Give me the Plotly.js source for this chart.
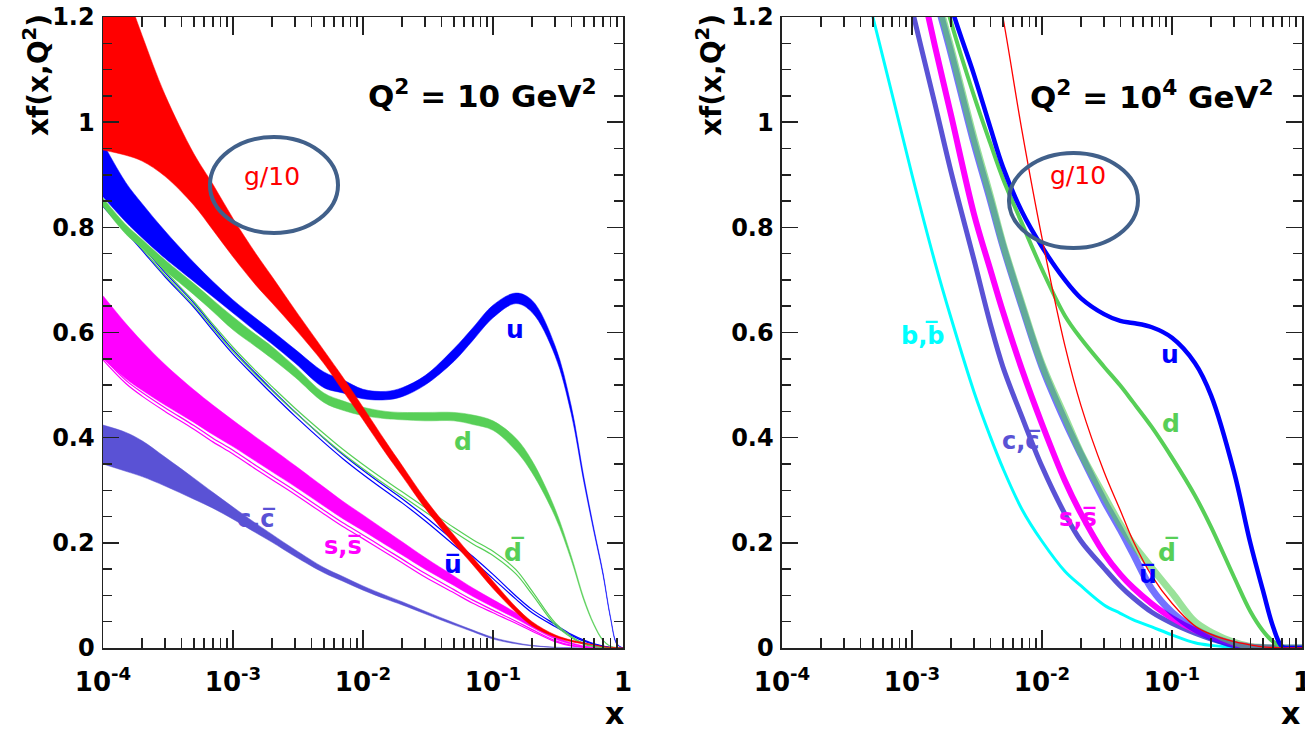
<!DOCTYPE html>
<html>
<head>
<meta charset="utf-8">
<script src="https://cdn.plot.ly/plotly-3.0.1.min.js"></script>
<style>html,body{margin:0;padding:0;background:#fff;}#chart{width:1305px;height:734px;}</style>
</head>
<body>
<div id="chart"></div>
<script>
// ---------- DATA ----------
// Left panel: Q^2 = 10 GeV^2
const xL = [1e-4, 1.5e-4, 2e-4, 3e-4, 5e-4, 7e-4, 1e-3, 1.5e-3, 2e-3, 3e-3, 5e-3, 7e-3, 0.01, 0.015, 0.02, 0.03, 0.05, 0.07, 0.1, 0.15, 0.2, 0.3, 0.4, 0.5, 0.6, 0.7, 0.8, 0.9, 1];
const gHiL = [1.36, 1.25, 1.165, 1.052, 0.94, 0.882, 0.817, 0.75, 0.706, 0.643, 0.566, 0.515, 0.458, 0.392, 0.347, 0.284, 0.215, 0.172, 0.127, 0.078, 0.050, 0.025, 0.015, 0.010, 0.006, 0.003, 0.0015, 0.0005, 0];
const gLoL = [0.947, 0.937, 0.926, 0.897, 0.842, 0.795, 0.744, 0.69, 0.656, 0.607, 0.541, 0.489, 0.434, 0.370, 0.327, 0.266, 0.199, 0.158, 0.113, 0.068, 0.042, 0.021, 0.012, 0.008, 0.005, 0.002, 0.001, 0.0003, 0];
const uHiL = [0.960, 0.885, 0.845, 0.793, 0.733, 0.697, 0.662, 0.627, 0.603, 0.568, 0.525, 0.510, 0.492, 0.488, 0.495, 0.518, 0.569, 0.609, 0.652, 0.675, 0.661, 0.575, 0.46, 0.325, 0.225, 0.145, 0.06, 0.008, 0];
const uLoL = [0.858, 0.810, 0.780, 0.741, 0.697, 0.668, 0.637, 0.602, 0.578, 0.542, 0.495, 0.485, 0.474, 0.472, 0.478, 0.500, 0.545, 0.585, 0.628, 0.655, 0.638, 0.556, 0.445, 0.315, 0.218, 0.14, 0.057, 0.006, 0];
const dHiL = [0.856, 0.805, 0.777, 0.738, 0.693, 0.662, 0.630, 0.596, 0.573, 0.535, 0.485, 0.470, 0.458, 0.450, 0.448, 0.448, 0.448, 0.443, 0.432, 0.399, 0.356, 0.265, 0.175, 0.095, 0.045, 0.016, 0.004, 0.001, 0];
const dLoL = [0.840, 0.787, 0.760, 0.718, 0.672, 0.640, 0.605, 0.573, 0.550, 0.515, 0.467, 0.452, 0.442, 0.436, 0.434, 0.432, 0.432, 0.425, 0.414, 0.375, 0.333, 0.25, 0.167, 0.09, 0.042, 0.014, 0.003, 0.0005, 0];
const dbHiL = [0.848, 0.801, 0.767, 0.717, 0.659, 0.616, 0.572, 0.527, 0.497, 0.456, 0.408, 0.378, 0.349, 0.318, 0.297, 0.267, 0.229, 0.206, 0.184, 0.149, 0.108, 0.048, 0.022, 0.009, 0.003, 0.001, 0, 0, 0];
const dbLoL = [0.842, 0.793, 0.759, 0.709, 0.651, 0.608, 0.564, 0.519, 0.489, 0.448, 0.400, 0.370, 0.341, 0.310, 0.289, 0.259, 0.221, 0.198, 0.176, 0.141, 0.102, 0.044, 0.020, 0.007, 0.003, 0.001, 0, 0, 0];
const ubHiL = [0.846, 0.799, 0.764, 0.714, 0.656, 0.612, 0.567, 0.522, 0.491, 0.449, 0.399, 0.368, 0.338, 0.306, 0.284, 0.250, 0.204, 0.174, 0.140, 0.099, 0.073, 0.045, 0.026, 0.015, 0.008, 0.004, 0.001, 0, 0];
const ubLoL = [0.840, 0.791, 0.756, 0.706, 0.648, 0.604, 0.559, 0.514, 0.483, 0.441, 0.391, 0.360, 0.330, 0.298, 0.276, 0.242, 0.196, 0.166, 0.132, 0.093, 0.067, 0.041, 0.024, 0.013, 0.007, 0.003, 0.001, 0, 0];
const sHiL = [0.67, 0.617, 0.583, 0.539, 0.491, 0.462, 0.433, 0.401, 0.379, 0.347, 0.306, 0.279, 0.253, 0.223, 0.202, 0.172, 0.137, 0.114, 0.092, 0.067, 0.048, 0.022, 0.01, 0.004, 0.0015, 0.0005, 0, 0, 0];
const sLoL = [0.55, 0.512, 0.490, 0.462, 0.429, 0.406, 0.383, 0.355, 0.335, 0.307, 0.270, 0.246, 0.223, 0.196, 0.177, 0.150, 0.119, 0.098, 0.078, 0.056, 0.039, 0.017, 0.007, 0.0025, 0.0007, 0.0002, 0, 0, 0];
const sbHiL = [0.553, 0.509, 0.486, 0.457, 0.423, 0.399, 0.376, 0.347, 0.327, 0.299, 0.262, 0.238, 0.215, 0.188, 0.169, 0.142, 0.111, 0.091, 0.072, 0.051, 0.035, 0.014, 0.005, 0.002, 0.0005, 0, 0, 0, 0];
const sbLoL = [0.548, 0.503, 0.479, 0.450, 0.416, 0.392, 0.369, 0.340, 0.320, 0.292, 0.255, 0.231, 0.208, 0.181, 0.162, 0.135, 0.105, 0.085, 0.067, 0.047, 0.032, 0.012, 0.004, 0.0015, 0.0003, 0, 0, 0, 0];
const cHiL = [0.424, 0.41, 0.394, 0.363, 0.323, 0.296, 0.268, 0.237, 0.216, 0.187, 0.153, 0.136, 0.118, 0.100, 0.088, 0.070, 0.048, 0.034, 0.020, 0.010, 0.005, 0.0015, 0.0005, 0, 0, 0, 0, 0, 0];
const cLoL = [0.350, 0.336, 0.326, 0.308, 0.283, 0.266, 0.245, 0.219, 0.201, 0.174, 0.143, 0.127, 0.110, 0.093, 0.082, 0.065, 0.044, 0.031, 0.017, 0.008, 0.004, 0.001, 0, 0, 0, 0, 0, 0, 0];

// Right panel: Q^2 = 10^4 GeV^2
const xR = [3e-4, 5e-4, 7e-4, 1e-3, 1.5e-3, 2e-3, 3e-3, 4e-3, 5e-3, 7e-3, 0.01, 0.015, 0.02, 0.03, 0.04, 0.05, 0.07, 0.1, 0.15, 0.2, 0.3, 0.4, 0.5, 0.6, 0.7, 0.8, 0.9, 1];
const bR  = [1.42, 1.2, 1.055, 0.9, 0.734, 0.627, 0.487, 0.402, 0.342, 0.264, 0.203, 0.146, 0.118, 0.082, 0.066, 0.054, 0.04, 0.025, 0.01, 0.005, 0.0015, 0.0005, 0, 0, 0, 0, 0, 0];
const cR  = [1.75, 1.55, 1.385, 1.215, 1.035, 0.905, 0.738, 0.617, 0.535, 0.44, 0.345, 0.255, 0.203, 0.152, 0.118, 0.096, 0.068, 0.047, 0.028, 0.017, 0.005, 0.002, 0.001, 0, 0, 0, 0, 0];
const sR  = [1.9, 1.66, 1.5, 1.34, 1.145, 1.013, 0.825, 0.72, 0.64, 0.53, 0.426, 0.318, 0.255, 0.18, 0.14, 0.115, 0.084, 0.057, 0.034, 0.022, 0.008, 0.003, 0.001, 0, 0, 0, 0, 0];
const ubR = [1.95, 1.72, 1.57, 1.42, 1.245, 1.13, 0.96, 0.852, 0.765, 0.65, 0.535, 0.432, 0.367, 0.28, 0.225, 0.18, 0.112, 0.068, 0.036, 0.021, 0.006, 0.001, 0, 0, 0, 0, 0, 0];
const dbR = [1.96, 1.73, 1.58, 1.43, 1.255, 1.14, 0.97, 0.86, 0.77, 0.655, 0.54, 0.44, 0.37, 0.29, 0.235, 0.198, 0.152, 0.105, 0.05, 0.03, 0.011, 0.003, 0.001, 0, 0, 0, 0, 0];
const gR  = [3.0, 2.6, 2.35, 2.1, 1.85, 1.7, 1.47, 1.32, 1.2, 0.985, 0.78, 0.575, 0.46, 0.335, 0.262, 0.205, 0.137, 0.085, 0.042, 0.026, 0.012, 0.006, 0.002, 0.001, 0, 0, 0, 0];
const dR  = [2.02, 1.8, 1.64, 1.47, 1.31, 1.19, 1.05, 0.96, 0.893, 0.808, 0.72, 0.632, 0.588, 0.535, 0.499, 0.468, 0.42, 0.362, 0.29, 0.23, 0.135, 0.07, 0.033, 0.012, 0.003, 0, 0, 0];
const uR  = [2.1, 1.86, 1.69, 1.52, 1.34, 1.22, 1.09, 0.99, 0.915, 0.83, 0.763, 0.70, 0.665, 0.635, 0.622, 0.618, 0.61, 0.59, 0.542, 0.48, 0.335, 0.20, 0.11, 0.04, 0.003, 0, 0, 0];

// Axis ticks
const xTickVals = [1e-4, 1e-3, 1e-2, 1e-1, 1];
const xTickText = ['10<sup>-4</sup>', '10<sup>-3</sup>', '10<sup>-2</sup>', '10<sup>-1</sup>', '1'];
const xMinorVals = [2e-4,3e-4,4e-4,5e-4,6e-4,7e-4,8e-4,9e-4, 2e-3,3e-3,4e-3,5e-3,6e-3,7e-3,8e-3,9e-3, 0.02,0.03,0.04,0.05,0.06,0.07,0.08,0.09, 0.2,0.3,0.4,0.5,0.6,0.7,0.8,0.9];

// ---------- STYLE ----------
const RED = '#ff0000', BLUE = '#0000ff', GREEN = '#57cf57', MAG = '#ff00ff', SLATE = '#5a52d5', CYAN = '#00ffff';
const ELL = '#41608a';

function band(x, lo, hi, color, xa, ya) {
  const common = {x: x, mode: 'lines', xaxis: xa, yaxis: ya, hoverinfo: 'skip', showlegend: false};
  return [
    Object.assign({}, common, {y: lo, line: {color: color, width: 0.5, shape: 'spline', smoothing: 1}}),
    Object.assign({}, common, {y: hi, fill: 'tonexty', fillcolor: color, line: {color: color, width: 0.5, shape: 'spline', smoothing: 1}})
  ];
}
function line(x, y, color, width, xa, ya) {
  return {x: x, y: y, mode: 'lines', xaxis: xa, yaxis: ya, hoverinfo: 'skip', showlegend: false,
          line: {color: color, width: width, shape: 'spline', smoothing: 1}};
}

const traces = [];
// left panel
traces.push(...band(xL, cLoL, cHiL, SLATE, 'x', 'y'));
traces.push(...band(xL, sLoL, sHiL, MAG, 'x', 'y'));
traces.push(line(xL, sbHiL, MAG, 1.2, 'x', 'y'), line(xL, sbLoL, MAG, 1.2, 'x', 'y'));
traces.push(line(xL, ubHiL, BLUE, 1.2, 'x', 'y'), line(xL, ubLoL, BLUE, 1.2, 'x', 'y'));
traces.push(line(xL, dbHiL, GREEN, 1.2, 'x', 'y'), line(xL, dbLoL, GREEN, 1.2, 'x', 'y'));
traces.push(...band(xL, dLoL, dHiL, GREEN, 'x', 'y'));
traces.push(...band(xL, uLoL, uHiL, BLUE, 'x', 'y'));
traces.push(...band(xL, gLoL, gHiL, RED, 'x', 'y'));
// right panel
traces.push(line(xR, bR, CYAN, 3, 'x2', 'y2'));
traces.push(line(xR, cR, SLATE, 5, 'x2', 'y2'));
traces.push(line(xR, sR, MAG, 6, 'x2', 'y2'));
traces.push(line(xR, ubR, 'rgba(0,0,255,0.55)', 7, 'x2', 'y2'));
traces.push(line(xR, dbR, 'rgba(87,207,87,0.6)', 7, 'x2', 'y2'));
traces.push(line(xR, dR, GREEN, 4, 'x2', 'y2'));
traces.push(line(xR, uR, BLUE, 4.5, 'x2', 'y2'));
traces.push(line(xR, gR, RED, 1.3, 'x2', 'y2'));

const FONT = 'DejaVu Sans';
function xAxis(domain, anchor) {
  return {type: 'log', domain: domain, anchor: anchor, range: [-4, 0], tickmode: 'array', tickvals: xTickVals, ticktext: xTickText,
    ticks: 'inside', ticklen: 18, tickwidth: 1.5, tickcolor: '#222', showline: true, linecolor: '#222', linewidth: 1.5,
    mirror: 'ticks', showgrid: false, zeroline: false, fixedrange: true, ticklabelstandoff: 10, ticklabeloverflow: 'allow',
    tickfont: {family: FONT, size: 26, color: '#000', weight: 'bold'},
    minor: {tickmode: 'array', tickvals: xMinorVals, ticks: 'inside', ticklen: 10, tickwidth: 1.5, tickcolor: '#222', showgrid: false}};
}
function yAxis(anchor) {
  return {anchor: anchor, domain: [0, 1], range: [0, 1.2], tick0: 0, dtick: 0.2, ticks: 'inside', ticklen: 16, tickwidth: 1.5, tickcolor: '#222',
    showline: true, linecolor: '#222', linewidth: 1.5, mirror: 'ticks', showgrid: false, zeroline: false, fixedrange: true,
    ticklabelstandoff: 2,
    tickfont: {family: FONT, size: 24, color: '#000', weight: 'bold'},
    minor: {dtick: 0.05, ticks: 'inside', ticklen: 9, tickwidth: 1.5, tickcolor: '#222', showgrid: false}};
}

function ann(text, x, y, color, size, bold, extra) {
  return Object.assign({text: text, x: x, y: y, xref: 'paper', yref: 'paper', xanchor: 'center', yanchor: 'middle',
    showarrow: false, font: {family: FONT, size: size, color: color, weight: bold ? 'bold' : 'normal'}}, extra || {});
}
const OV = '\u0305';
const annotations = [
  ann('xf(x,Q<sup>2</sup>)', -0.0559, 0.908, '#000', 28, true, {textangle: -90}),
  ann('xf(x,Q<sup>2</sup>)', 0.5054, 0.908, '#000', 28, true, {textangle: -90}),
  ann('x', 0.4270, -0.1347, '#000', 30, true, {yanchor: 'bottom'}),
  ann('x', 0.9900, -0.1347, '#000', 30, true, {yanchor: 'bottom'}),
  ann('Q<sup>2</sup> = 10 GeV<sup>2</sup>', 0.3169, 0.878, '#000', 31, true),
  ann('Q<sup>2</sup> = 10<sup>4</sup> GeV<sup>2</sup>', 0.8749, 0.877, '#000', 31, true),
  ann('g/10', 0.1410, 0.748, RED, 25, false),
  ann('g/10', 0.8132, 0.7496, RED, 25, false),
  ann('u', 0.3436, 0.505, BLUE, 25, true),
  ann('d', 0.3003, 0.328, GREEN, 25, true),
  ann('d' + OV, 0.3428, 0.1537, GREEN, 25, true),
  ann('u' + OV, 0.2919, 0.1330, BLUE, 25, true),
  ann('s,s' + OV, 0.2002, 0.162, MAG, 24, true),
  ann('c,c' + OV, 0.1276, 0.205, SLATE, 24, true),
  ann('u', 0.8899, 0.4650, BLUE, 25, true),
  ann('d', 0.8907, 0.355, GREEN, 25, true),
  ann('d' + OV, 0.8882, 0.1537, GREEN, 25, true),
  ann('u' + OV, 0.8716, 0.1170, BLUE, 25, true),
  ann('s,s' + OV, 0.8132, 0.2060, MAG, 24, true),
  ann('c,c' + OV, 0.7656, 0.3280, SLATE, 24, true),
  ann('b,b' + OV, 0.6831, 0.4960, CYAN, 24, true)
];

const shapes = [
  {type: 'circle', xref: 'paper', yref: 'paper', x0: 0.0892, x1: 0.1960, y0: 0.6577, y1: 0.8098, line: {color: ELL, width: 4}},
  {type: 'circle', xref: 'paper', yref: 'paper', x0: 0.7556, x1: 0.8632, y0: 0.6339, y1: 0.7845, line: {color: ELL, width: 4}}
];

const layout = {
  width: 1305, height: 734, margin: {l: 103, r: 3, t: 17, b: 86, pad: 0},
  paper_bgcolor: '#fff', plot_bgcolor: '#fff', showlegend: false,
  xaxis: xAxis([0, 0.4337], 'y'), yaxis: yAxis('x'),
  xaxis2: xAxis([0.5663, 1], 'y2'), yaxis2: yAxis('x2'),
  annotations: annotations, shapes: shapes
};

Plotly.newPlot('chart', traces, layout, {staticPlot: true, displayModeBar: false});
</script>
</body>
</html>
